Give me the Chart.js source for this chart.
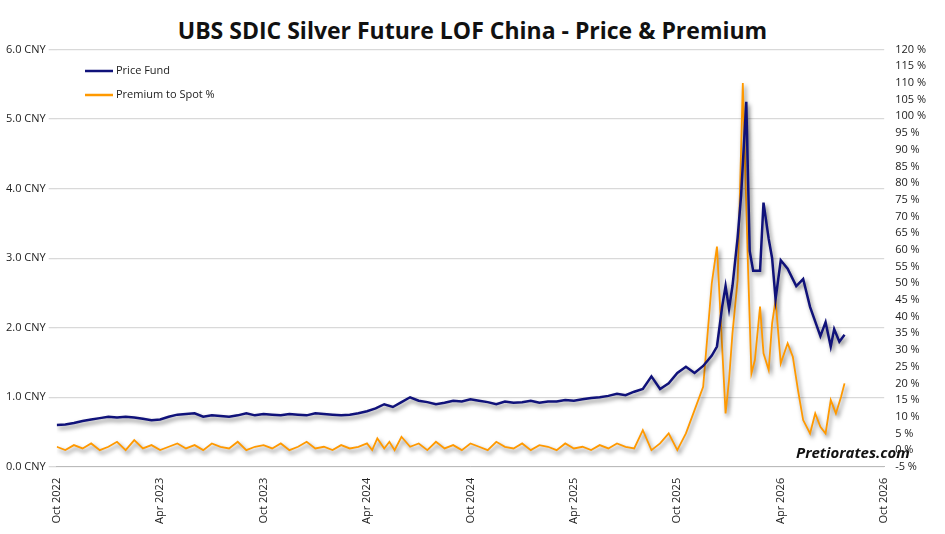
<!DOCTYPE html>
<html>
<head>
<script src="https://cdn.jsdelivr.net/npm/chart.js"></script>
<style>
  body { margin: 0; background: #fff; font-family: 'Open Sans', sans-serif; }
  #wrap { width: 945px; height: 534px; position: relative; }
  h1 { margin: 0; position: absolute; top: 14px; width: 100%; text-align: center; font-size: 23px; font-weight: bold; color: #111; }
  #c { position: absolute; top: 40px; left: 0; }
  .brand { position: absolute; left: 796px; top: 442px; font-size: 15px; font-weight: bold; font-style: italic; color: #111; }
</style>
</head>
<body>
<div id="wrap">
  <h1>UBS SDIC Silver Future LOF China - Price &amp; Premium</h1>
  <canvas id="c" width="945" height="494"></canvas>
  <div class="brand">Pretiorates.com</div>
</div>
<script>
// month offsets from Oct 2022
const tickLabels = ["Oct 2022", "Apr 2023", "Oct 2023", "Apr 2024", "Oct 2024", "Apr 2025", "Oct 2025", "Apr 2026", "Oct 2026"];

const fundMonths = [0,0.5,1,1.5,2,2.5,3,3.5,4,4.5,5,5.5,6,6.5,7,7.5,8,8.5,9,9.5,10,10.5,11,11.5,12,12.5,13,13.5,14,14.5,15,15.5,16,16.5,17,17.5,18,18.5,19,19.5,20,20.5,21,21.5,22,22.5,23,23.5,24,24.5,25,25.5,26,26.5,27,27.5,28,28.5,29,29.5,30,30.5,31,31.5,32,32.5,33,33.5,34,34.5,35,35.5,36,36.5,37,37.5,38,38.3,38.6,38.8,39,39.2,39.5,39.7,40,40.2,40.4,40.8,41,41.3,41.5,41.7,42,42.4,42.9,43.3,43.7,44.3,44.6,44.9,45.1,45.4,45.7];
const fundPrice = [0.6,0.61,0.63,0.66,0.68,0.7,0.72,0.71,0.72,0.71,0.69,0.67,0.68,0.72,0.75,0.76,0.77,0.72,0.74,0.73,0.72,0.74,0.77,0.74,0.76,0.75,0.74,0.76,0.75,0.74,0.77,0.76,0.75,0.74,0.75,0.77,0.8,0.84,0.9,0.86,0.93,1.0,0.95,0.93,0.9,0.92,0.95,0.94,0.97,0.95,0.93,0.9,0.94,0.92,0.93,0.95,0.92,0.94,0.94,0.96,0.95,0.97,0.99,1.0,1.02,1.05,1.03,1.08,1.12,1.3,1.12,1.2,1.35,1.44,1.35,1.45,1.6,1.73,2.3,2.6,2.27,2.6,3.3,3.9,5.25,3.1,2.82,2.82,3.8,3.28,3.0,2.41,2.97,2.85,2.6,2.7,2.3,1.88,2.08,1.73,1.98,1.8,1.9];

const premMonths = [0,0.5,1,1.5,2,2.5,3,3.5,4,4.5,5,5.5,6,6.5,7,7.5,8,8.5,9,9.5,10,10.5,11,11.5,12,12.5,13,13.5,14,14.5,15,15.5,16,16.5,17,17.5,18,18.3,18.6,19,19.3,19.6,20,20.5,21,21.5,22,22.5,23,23.5,24,24.5,25,25.5,26,26.5,27,27.5,28,28.5,29,29.5,30,30.5,31,31.5,32,32.5,33,33.5,34,34.5,35,35.5,36,36.5,37,37.5,38,38.3,38.8,39,39.2,39.5,39.8,40.1,40.3,40.5,40.8,41,41.3,41.5,41.7,42,42.4,42.7,43,43.3,43.7,44,44.3,44.6,44.9,45.2,45.5,45.7];
const premium = [1,0,1.5,0.5,2,0,1,2.5,0,3,0.5,1.5,0,1,2,0.5,1.5,0,2,1,0.5,2.5,0,1,1.5,0.5,2,0,1,2.5,0.5,1,0,1.5,0.5,1,2,0,3.5,0.5,2.5,0,4,1,2,0,2.5,0.5,1.5,0,2,1,0,2.5,1,0.5,2,0,1.5,1,0,2,0.5,1,0,1.5,0.5,2,1,0.5,6,0,2,5,0,5,12,19,50,61,11,21,35,51,110,55,23,27,43,29,24,38,45,26,32,28,18,9,5,11,7,5,15,11,16,20];

const fundPts = fundMonths.map((m, i) => ({ x: m, y: fundPrice[i] }));
const premPts = premMonths.map((m, i) => ({ x: m, y: premium[i] }));

const shadow = {
  id: 'shadow',
  beforeDatasetDraw(chart) { const c = chart.ctx; c.save(); c.shadowColor = 'rgba(0,0,0,0.5)'; c.shadowBlur = 4; c.shadowOffsetX = 2; c.shadowOffsetY = 3; },
  afterDatasetDraw(chart) { chart.ctx.restore(); }
};
const legendPlug = {
  id: 'legendPlug',
  afterDraw(chart) {
    const c = chart.ctx;
    const items = [['Price Fund', '#10127a'], ['Premium to Spot %', '#ff9900']];
    c.save();
    c.font = '11px "Open Sans"';
    c.textBaseline = 'middle';
    items.forEach((it, i) => {
      const y = 31 + i * 24;
      c.strokeStyle = it[1]; c.lineWidth = 2.5;
      c.beginPath(); c.moveTo(85, y); c.lineTo(113, y); c.stroke();
      c.fillStyle = '#222'; c.fillText(it[0], 116, y);
    });
    c.restore();
  }
};

new Chart(document.getElementById('c'), {
  type: 'line',
  data: { datasets: [
    { label: 'Price Fund', data: fundPts, yAxisID: 'y', borderColor: '#10127a', borderWidth: 2.5, pointRadius: 0, tension: 0 },
    { label: 'Premium to Spot %', data: premPts, yAxisID: 'y1', borderColor: '#ff9900', borderWidth: 1.8, pointRadius: 0, tension: 0 }
  ]},
  options: {
    responsive: false, animation: false,
    layout: { padding: { top: 6, right: 16, left: 3, bottom: 7 } },
    plugins: { legend: { display: false }, tooltip: { enabled: false } },
    scales: {
      x: { type: 'linear', min: 0, max: 48,
        grid: { display: false }, border: { color: '#bbb' },
        ticks: { stepSize: 6, maxRotation: 90, minRotation: 90, color: '#222', font: { size: 11, family: 'Open Sans' },
          callback: v => tickLabels[v / 6] } },
      y: { position: 'left', min: 0, max: 6,
        grid: { color: '#d9d9d9', lineWidth: 1.3 }, border: { display: false },
        ticks: { stepSize: 1, color: '#222', font: { size: 11, family: 'Open Sans' }, callback: v => v.toFixed(1) + ' CNY' } },
      y1: { position: 'right', min: -5, max: 120,
        grid: { display: false }, border: { display: false },
        ticks: { stepSize: 5, color: '#222', font: { size: 11, family: 'Open Sans' }, callback: v => v + ' %' } }
    }
  },
  plugins: [shadow, legendPlug]
});
</script>
</body>
</html>
